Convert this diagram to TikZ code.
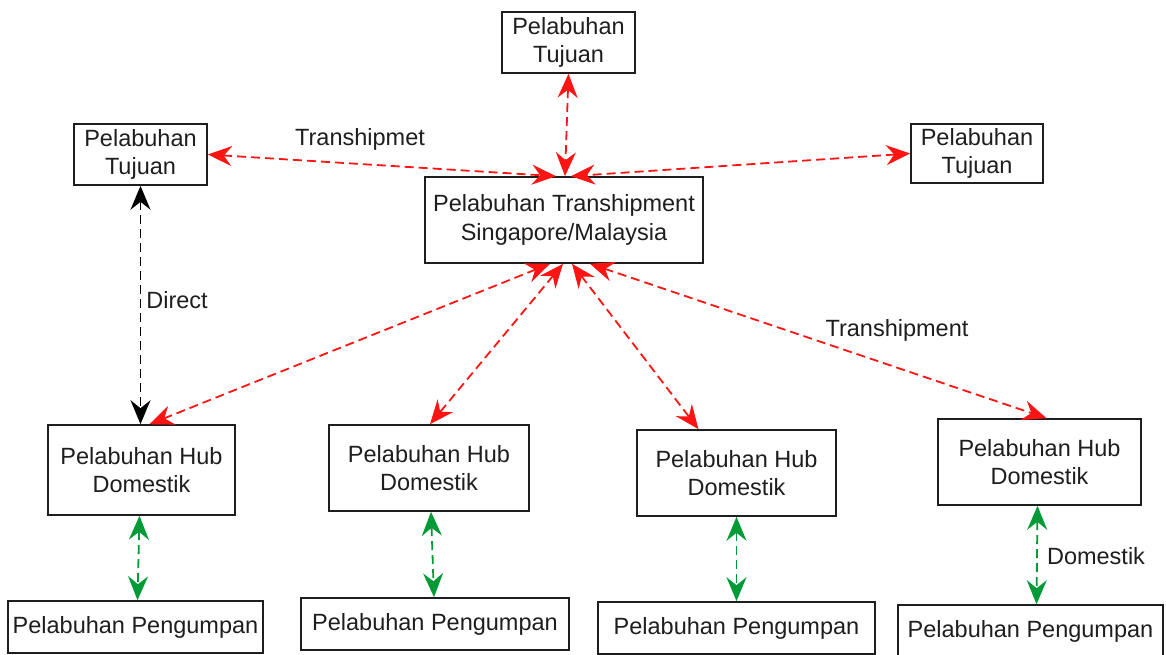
\documentclass[tikz,border=0pt]{standalone}
\usepackage{fontspec}
\setmainfont{Liberation Sans}
\usetikzlibrary{arrows.meta}
\definecolor{ink}{RGB}{30,30,30}
\definecolor{linkred}{RGB}{255,20,20}
\definecolor{linkgreen}{RGB}{0,155,55}
\tikzset{porttip/.tip={Stealth[length=24pt,width=20pt,inset=8pt,sep=0pt]}}
\begin{document}
\begin{tikzpicture}[x=1pt,y=-1pt,
  port/.style={draw=ink,line width=1.6pt,text=ink,align=center,inner sep=0pt,
    font=\fontsize{23.5}{28.5}\selectfont},
  lbl/.style={text=ink,inner sep=0pt,font=\fontsize{23.5}{28.5}\selectfont},
  link/.style={line width=1.8pt,dash pattern=on 9pt off 5pt,porttip-porttip},
  redlink/.style={link,draw=linkred},
  greenlink/.style={link,draw=linkgreen},
  blacklink/.style={link,draw=black}]
\useasboundingbox (0,0) rectangle (1166,655);

% destination ports
\node[port,minimum width=133,minimum height=61] (tt) at (568.5,42.5) {Pelabuhan\\Tujuan};
\node[port,minimum width=133,minimum height=61] (lt) at (140.5,154.5) {Pelabuhan\\Tujuan};
\node[port,minimum width=132,minimum height=59] (rt) at (977,153.5) {Pelabuhan\\Tujuan};

% transhipment port
\node[port,minimum width=278,minimum height=86] (tr) at (564,220) {Pelabuhan Transhipment\\Singapore/Malaysia};

% domestic hubs
\node[port,minimum width=187,minimum height=90] (h1) at (141.5,470) {Pelabuhan Hub\\Domestik};
\node[port,minimum width=200,minimum height=86] (h2) at (429,468) {Pelabuhan Hub\\Domestik};
\node[port,minimum width=199,minimum height=86] (h3) at (736.5,473) {Pelabuhan Hub\\Domestik};
\node[port,minimum width=203,minimum height=86] (h4) at (1039.5,462) {Pelabuhan Hub\\Domestik};

% feeder ports
\node[port,minimum width=255,minimum height=52] (p1) at (135.5,627) {Pelabuhan Pengumpan};
\node[port,minimum width=268,minimum height=52] (p2) at (435,624) {Pelabuhan Pengumpan};
\node[port,minimum width=277,minimum height=52] (p3) at (736.5,628) {Pelabuhan Pengumpan};
\node[port,minimum width=265,minimum height=52] (p4) at (1030.5,631) {Pelabuhan Pengumpan};

% transhipment links
\draw[redlink] (tt.south) -- ([xshift=1]tr.north);
\draw[redlink] (lt.east) -- ([xshift=-8]tr.north);
\draw[redlink] (rt.west) -- ([xshift=7]tr.north);
\draw[redlink] ([xshift=-14]tr.south) -- ([xshift=8]h1.north);
\draw[redlink] ([xshift=-1]tr.south) -- ([xshift=1]h2.north);
\draw[redlink] ([xshift=8]tr.south) -- ([xshift=-38]h3.north);
\draw[redlink] ([xshift=26]tr.south) -- ([xshift=7]h4.north);

% direct link
\draw[blacklink] (lt.south) -- ([xshift=-1]h1.north);

% domestic links
\draw[greenlink] ([xshift=-2]h1.south) -- ([xshift=2]p1.north);
\draw[greenlink] ([xshift=2]h2.south) -- ([xshift=-1]p2.north);
\draw[greenlink] (h3.south) -- (p3.north);
\draw[greenlink] ([xshift=-2]h4.south) -- ([xshift=6]p4.north);

% link labels
\node[lbl] (l1) at (360,139) {Transhipmet};
\node[lbl] (l2) at (177,300) {Direct};
\node[lbl] (l3) at (897,330) {Transhipment};
\node[lbl] (l4) at (1096,556) {Domestik};
\end{tikzpicture}
\end{document}
